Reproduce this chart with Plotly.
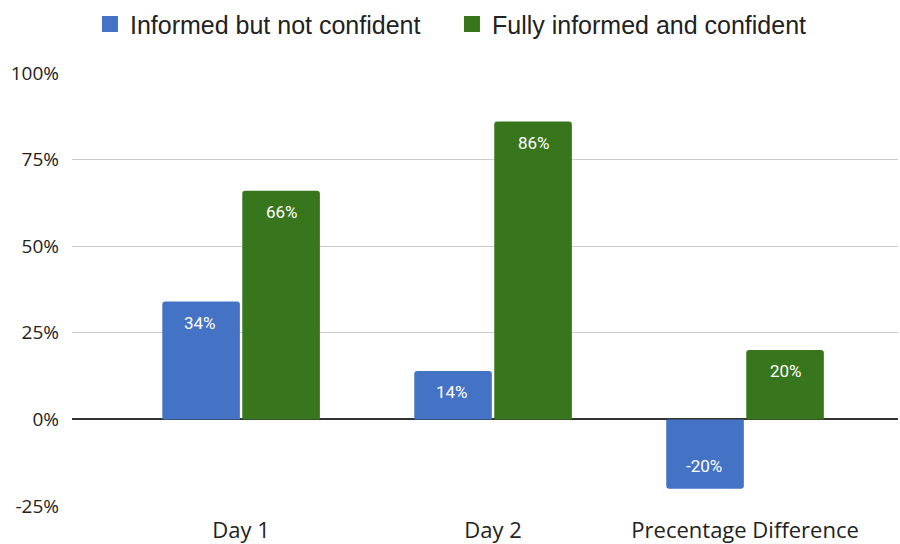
import plotly.graph_objects as go

categories = ["Day 1", "Day 2", "Precentage Difference"]
series_names = ["Informed but not confident", "Fully informed and confident"]
informed_not_confident = [34, 14, -20]
fully_informed_confident = [66, 86, 20]
y_ticks = [-25, 0, 25, 50, 75, 100]
y_tick_labels = ["-25%", "0%", "25%", "50%", "75%", "100%"]

colors = ["#4472C4", "#38761D"]
series_values = [informed_not_confident, fully_informed_confident]

fig = go.Figure()
for name, vals, col in zip(series_names, series_values, colors):
    fig.add_trace(go.Bar(
        x=categories, y=vals, name=name, showlegend=False,
        marker=dict(color=col, cornerradius=3, line=dict(width=0)),
        hoverinfo="x+y",
    ))
for name, col in zip(series_names, colors):
    fig.add_trace(go.Scatter(
        x=[None], y=[None], mode="markers", name=name,
        marker=dict(symbol="square", size=19, color=col),
    ))

annotations = []
for i, vals in enumerate(series_values):
    for cat, v in zip(categories, vals):
        annotations.append(dict(
            x=cat, y=v, xref="x", yref="y", text=f"{v}%", showarrow=False,
            xshift=-41 if i == 0 else 41,
            yshift=-21 if v >= 0 else 23,
            yanchor="middle",
            font=dict(family="Roboto", size=17, color="white"),
        ))

fig.update_layout(
    width=900, height=544,
    margin=dict(l=72, r=2, t=72, b=38),
    paper_bgcolor="white", plot_bgcolor="white",
    barmode="group", bargap=0.365, bargroupgap=0.03,
    annotations=annotations,
    legend=dict(
        orientation="h", x=0.46, xanchor="center", y=1.11, yanchor="middle",
        font=dict(family="Liberation Sans, Arial", size=25, color="#222222"),
        itemsizing="trace", entrywidth=317, entrywidthmode="pixels",
    ),
    xaxis=dict(
        type="category", range=[-0.671, 2.607], automargin=False,
        showgrid=False, showline=False, ticks="",
        tickfont=dict(family="Open Sans", size=22, color="#222222"),
        ticklabelstandoff=9,
    ),
    yaxis=dict(
        range=[-25, 100], tickvals=y_ticks, ticktext=y_tick_labels,
        automargin=False,
        showgrid=True, gridcolor="#cccccc", gridwidth=1,
        zeroline=True, zerolinecolor="#333333", zerolinewidth=1.5,
        showline=False, ticks="",
        tickfont=dict(family="Open Sans", size=19, color="#222222"),
        ticklabelstandoff=12,
    ),
)

fig.write_html("out.html")
